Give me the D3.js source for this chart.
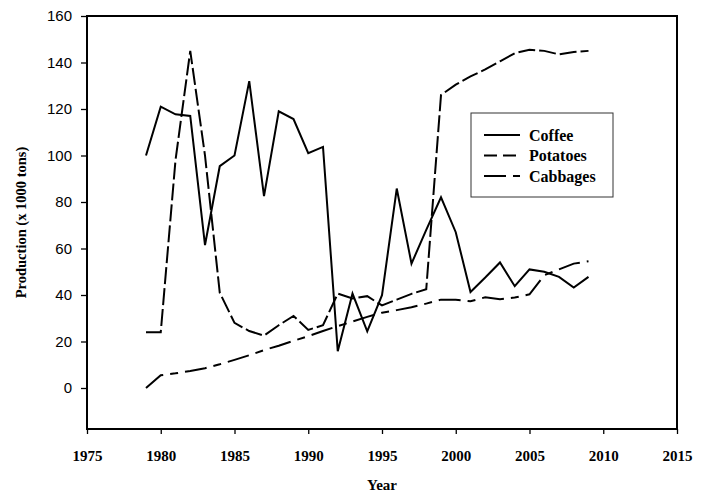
<!DOCTYPE html>
<html><head><meta charset="utf-8">
<script src="https://cdn.jsdelivr.net/npm/d3@7"></script>
<style>body{margin:0;background:#fff}</style>
</head><body>
<svg id="c" width="706" height="493"></svg>
<script>
const years = d3.range(1979, 2010);
const coffee = [100,121,117.7,117,61.5,95.4,100,132,82.5,119,115.7,101,103.7,15.8,40.6,24.4,39.9,85.8,53.5,68,82,67,41.3,47.5,54,43.8,51,50,47.8,43.2,47.8];
const potatoes = [24,24,98,145,100,41,28,24.5,22.5,27,31,25,27,40.6,38.5,39.5,35.5,38,40.5,42.5,126,130.5,134,137,140.5,144,145.5,145,143.5,144.5,145];
const cabbages = [0,5.5,6.3,7.3,8.5,10.2,12.1,14.1,16.3,18.2,20.3,22.3,24.5,26.6,28.6,30.6,32.4,33.5,34.7,36.3,38,38,37.3,39,38.2,38.9,40.3,48.5,51,53.5,54.5];
const seriesNames = ["Coffee","Potatoes","Cabbages"];
const seriesDash = [null,"17,4","22,7,8,7"];
const yTicks = [0,20,40,60,80,100,120,140,160];
const xTicks = [1975,1980,1985,1990,1995,2000,2005,2010,2015];

const svg = d3.select("#c");
const L=87, R=677, T=16, B=429;
const x = d3.scaleLinear().domain([1975,2015]).range([L,R]);
const y = d3.scaleLinear().domain([0,160]).range([388,T]);

// axes
const ya = svg.append("g").attr("transform",`translate(${L},0)`)
  .call(d3.axisLeft(y).tickValues(yTicks).tickSize(6).tickPadding(9).tickFormat(d3.format("d")));
ya.select(".domain").remove();
ya.selectAll("line").attr("stroke","#000").attr("stroke-width",1.3);
ya.selectAll("text").attr("font-family","'Liberation Sans',Arial,sans-serif").attr("font-size",15).attr("fill","#000");

const xa = svg.append("g").attr("transform",`translate(0,${B})`)
  .call(d3.axisBottom(x).tickValues(xTicks).tickSize(5).tickFormat(d3.format("d")));
xa.select(".domain").remove();
xa.selectAll("line").attr("stroke","#000").attr("stroke-width",1.3);
xa.selectAll("text").attr("y",32).attr("dy",0)
  .attr("font-family","'Liberation Serif','Times New Roman',serif").attr("font-weight","bold").attr("font-size",15).attr("fill","#000");

// frame
svg.append("rect").attr("x",L).attr("y",T).attr("width",R-L).attr("height",B-T)
  .attr("fill","none").attr("stroke","#000").attr("stroke-width",2);

// lines
const data = [coffee,potatoes,cabbages];
const line = d3.line().x((d,i)=>x(years[i])).y(d=>y(d));
data.forEach((s,k)=>{
  svg.append("path").datum(s).attr("d",line).attr("fill","none")
    .attr("stroke","#000").attr("stroke-width",2)
    .attr("stroke-dasharray",seriesDash[k]);
});

// legend
const lg = svg.append("g");
lg.append("rect").attr("x",471).attr("y",113).attr("width",142).attr("height",84)
  .attr("fill","#fff").attr("stroke","#333").attr("stroke-width",1);
seriesNames.forEach((n,k)=>{
  const yy = 135 + k*20.5;
  lg.append("line").attr("x1",484).attr("x2",520).attr("y1",yy).attr("y2",yy)
    .attr("stroke","#000").attr("stroke-width",2).attr("stroke-dasharray",k===1?"13,6":seriesDash[k]);
  lg.append("text").attr("x",529).attr("y",yy+5.5).text(n)
    .attr("font-family","'Liberation Serif','Times New Roman',serif").attr("font-weight","bold").attr("font-size",16);
});

// axis titles
svg.append("text").attr("x",(L+R)/2).attr("y",490).attr("text-anchor","middle").text("Year")
  .attr("font-family","'Liberation Serif','Times New Roman',serif").attr("font-weight","bold").attr("font-size",15);
svg.append("text").attr("transform",`translate(26,${(T+B)/2}) rotate(-90)`).attr("text-anchor","middle")
  .text("Production (x 1000 tons)")
  .attr("font-family","'Liberation Serif','Times New Roman',serif").attr("font-weight","bold").attr("font-size",14.5);
</script>
</body></html>
